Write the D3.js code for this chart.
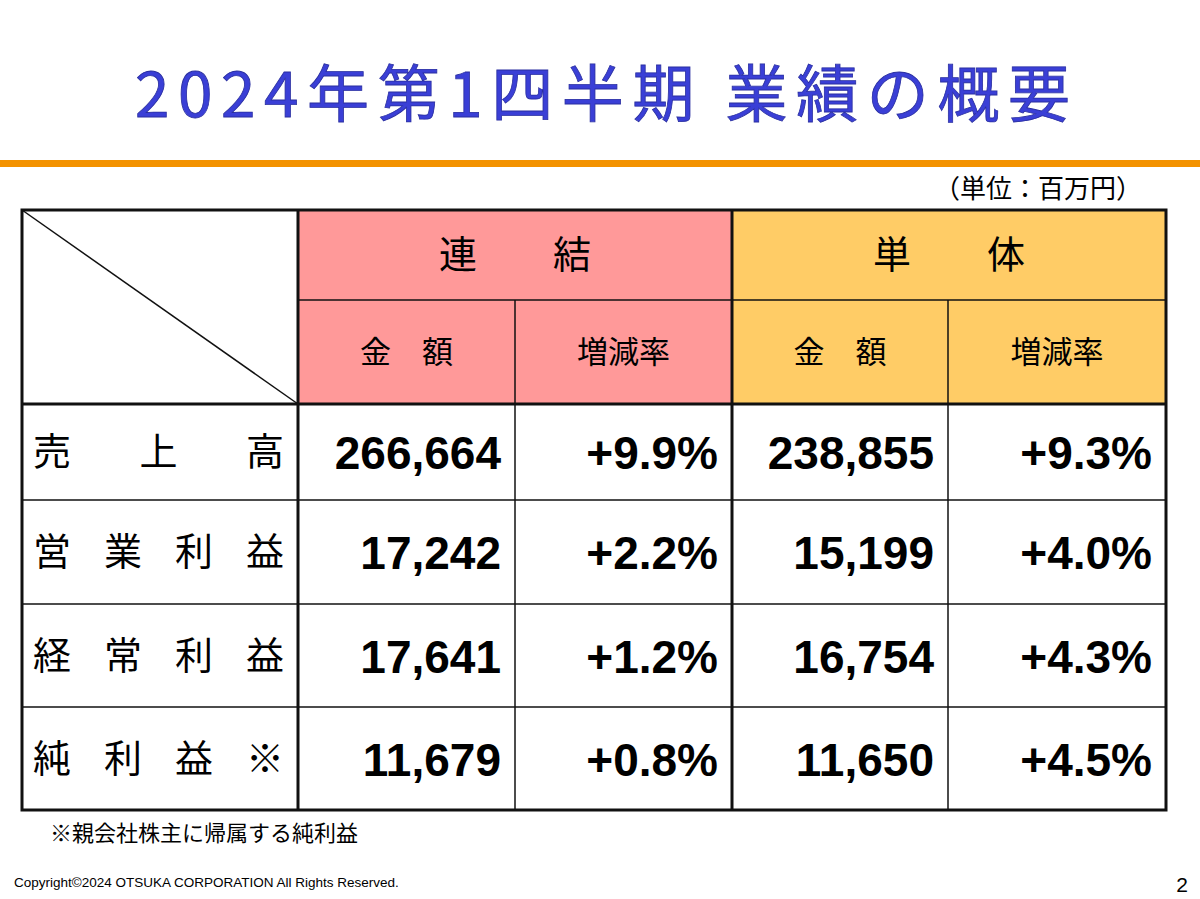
<!DOCTYPE html>
<html><head><meta charset="utf-8">
<script src="https://cdn.jsdelivr.net/npm/d3@7"></script>
<style>body{margin:0;background:#fff}</style></head>
<body><svg id="c" width="1200" height="899"></svg>
<script>
const title = "2024年第1四半期 業績の概要";
const unit = "（単位：百万円）";
const groups = ["連　　結", "単　　体"];
const subHeaders = ["金　額", "増減率", "金　額", "増減率"];
const rowLabels = [["売","上","高"], ["営","業","利","益"], ["経","常","利","益"], ["純","利","益","※"]];
const consolAmount = ["266,664", "17,242", "17,641", "11,679"];
const consolRate = ["+9.9%", "+2.2%", "+1.2%", "+0.8%"];
const soloAmount = ["238,855", "15,199", "16,754", "11,650"];
const soloRate = ["+9.3%", "+4.0%", "+4.3%", "+4.5%"];
const footnote = "※親会社株主に帰属する純利益";
const copyright = "Copyright©2024 OTSUKA CORPORATION All Rights Reserved.";

const svg = d3.select("#c");
const F = "'Noto Sans CJK JP','Noto Sans',sans-serif";
svg.append("text").attr("x",135).attr("y",117)
  .attr("font-family",F).attr("font-size",62).attr("font-weight",400)
  .attr("textLength",935).attr("lengthAdjust","spacing")
  .attr("fill","#3a3fd6").attr("stroke","#2a2fa0").attr("stroke-width",0.8).text(title);
svg.append("rect").attr("x",0).attr("y",160).attr("width",1200).attr("height",7).attr("fill","#f39200");
svg.append("text").attr("x",1142).attr("y",198).attr("text-anchor","end").attr("font-family",F).attr("font-size",26).text(unit);

const colEdges = [22,298,515,732,948,1166];
const rowEdges = [210,300,404,500,604,707,810];
const x = d3.scaleOrdinal().domain(d3.range(6)).range(colEdges);
const y = d3.scaleOrdinal().domain(d3.range(7)).range(rowEdges);
const colors = ["#ff9999","#ffcc66"];
const g = svg.append("g");
groups.forEach((t,i)=>{
  const x0=x(1+2*i), x1=x(3+2*i);
  g.append("rect").attr("x",x0).attr("y",y(0)).attr("width",x1-x0).attr("height",y(2)-y(0)).attr("fill",colors[i]);
  g.append("text").attr("x",(x0+x1)/2).attr("y",(y(0)+y(1))/2+13).attr("text-anchor","middle")
   .attr("font-family",F).attr("font-size",38).text(t);
});
subHeaders.forEach((t,i)=>{
  g.append("text").attr("x",(x(i+1)+x(i+2))/2).attr("y",(y(1)+y(2))/2+11).attr("text-anchor","middle")
   .attr("font-family",F).attr("font-size",31).text(t);
});
rowLabels.forEach((chars,r)=>{
  const cy=(y(r+2)+y(r+3))/2+13;
  const xs=d3.scalePoint().domain(d3.range(chars.length)).range([52,265]);
  chars.forEach((c,k)=>g.append("text").attr("x",xs(k)).attr("y",cy).attr("text-anchor","middle")
    .attr("font-family",F).attr("font-size",38).text(c));
});
const cols=[consolAmount,consolRate,soloAmount,soloRate];
cols.forEach((arr,c)=>arr.forEach((v,r)=>{
  g.append("text").attr("x",x(c+2)-14).attr("y",(y(r+2)+y(r+3))/2+17).attr("text-anchor","end")
   .attr("font-family","'Liberation Sans',Arial,sans-serif").attr("font-weight","bold").attr("font-size",46).text(v);
}));
const ln=(x1,y1,x2,y2,w)=>g.append("line").attr("x1",x1).attr("y1",y1).attr("x2",x2).attr("y2",y2).attr("stroke","#111").attr("stroke-width",w);
ln(x(0),y(0),x(1),y(2),1.5);
ln(x(1),y(1),x(5),y(1),1.5);
[2,4].forEach(c=>ln(x(c),y(1),x(c),y(6),1.5));
[3,4,5].forEach(r=>ln(x(0),y(r),x(5),y(r),1.5));
ln(x(0),y(2),x(5),y(2),3);
[1,3].forEach(c=>ln(x(c),y(0),x(c),y(6),3));
g.append("rect").attr("x",x(0)).attr("y",y(0)).attr("width",x(5)-x(0)).attr("height",y(6)-y(0)).attr("fill","none").attr("stroke","#111").attr("stroke-width",3);

svg.append("text").attr("x",50).attr("y",841).attr("font-family",F).attr("font-size",22).text(footnote);
svg.append("text").attr("x",14).attr("y",887).attr("font-family","'Liberation Sans',Arial,sans-serif").attr("font-size",13.5).text(copyright);
svg.append("text").attr("x",1188).attr("y",892).attr("text-anchor","end").attr("font-family","'Liberation Sans',Arial,sans-serif").attr("font-size",21).text("2");
</script></body></html>
